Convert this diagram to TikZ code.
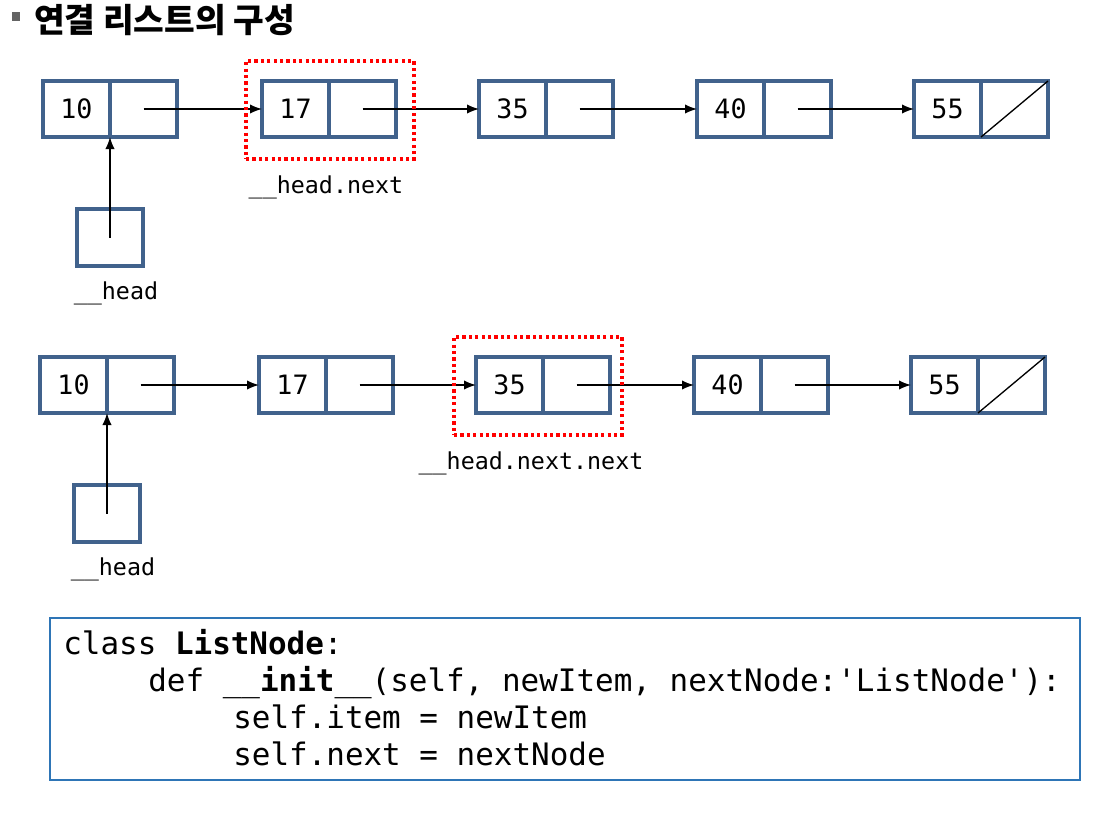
\documentclass[tikz,border=0pt]{standalone}
\usepackage{fontspec}
\usetikzlibrary{arrows.meta}
\setmonofont{DejaVu Sans Mono}
\newfontfamily\krfont{Noto Sans CJK KR}
\definecolor{cellblue}{RGB}{65,98,140}
\definecolor{codeblue}{RGB}{46,117,182}
\definecolor{bulletgray}{RGB}{100,100,100}
\tikzset{
  cell/.style={draw=cellblue, line width=3pt, minimum width=50.25pt, minimum height=42pt, inner sep=0pt, outer sep=0pt, font=\ttfamily\fontsize{20}{20}\selectfont},
  headbox/.style={draw=cellblue, line width=3pt, minimum width=49.5pt, minimum height=42.75pt, inner sep=0pt, outer sep=0pt},
  link/.style={-{Latex[length=9pt,width=7pt]}, line width=1.1pt, black},
  hilite/.style={draw=red, line width=2.6pt, dash pattern=on 2.4pt off 2.4pt, inner sep=0pt},
  varlabel/.style={font=\ttfamily\fontsize{17.5}{17.5}\selectfont, anchor=base, inner sep=0pt},
  codeline/.style={font=\ttfamily\fontsize{23.2}{23.2}\selectfont, anchor=base west, inner sep=0pt},
}
\begin{document}
\begin{tikzpicture}[x=0.75pt,y=-0.75pt]
\useasboundingbox (0,0) rectangle (1109,818);
% title
\node[fill=bulletgray, minimum width=6.5pt, minimum height=6.5pt, inner sep=0pt] (bullet) at (16,16.5) {};
\node[anchor=base west, inner sep=0pt, font=\krfont\bfseries\fontsize{25}{25}\selectfont] (title) at (34,32) {연결 리스트의 구성};

% ---------- row 1 ----------
\node[cell] (a1) at (76.5,109) {10};
\node[cell] (ap1) at (143.5,109) {};
\node[cell] (a2) at (295.5,109) {17};
\node[cell] (ap2) at (362.5,109) {};
\node[cell] (a3) at (512.5,109) {35};
\node[cell] (ap3) at (579.5,109) {};
\node[cell] (a4) at (730.5,109) {40};
\node[cell] (ap4) at (797.5,109) {};
\node[cell] (a5) at (947.5,109) {55};
\node[cell] (ap5) at (1014.5,109) {};
\draw[line width=1pt] (ap5.south west) -- (ap5.north east);
\draw[link] (ap1.center) -- (a2.west);
\draw[link] (ap2.center) -- (a3.west);
\draw[link] (ap3.center) -- (a4.west);
\draw[link] (ap4.center) -- (a5.west);
\node[headbox] (ah) at (110,237.5) {};
\draw[link] (ah.center) -- (ah.center |- a1.south);
\node[varlabel] (ahl) at (116,299) {\_\_head};
\node[hilite, minimum width=126pt, minimum height=73.5pt] (ahi) at (330,110) {};
\node[varlabel] (ahil) at (326,193) {\_\_head.next};

% ---------- row 2 ----------
\node[cell] (b1) at (73.5,385) {10};
\node[cell] (bp1) at (140.5,385) {};
\node[cell] (b2) at (292.5,385) {17};
\node[cell] (bp2) at (359.5,385) {};
\node[cell] (b3) at (509.5,385) {35};
\node[cell] (bp3) at (576.5,385) {};
\node[cell] (b4) at (727.5,385) {40};
\node[cell] (bp4) at (794.5,385) {};
\node[cell] (b5) at (944.5,385) {55};
\node[cell] (bp5) at (1011.5,385) {};
\draw[line width=1pt] (bp5.south west) -- (bp5.north east);
\draw[link] (bp1.center) -- (b2.west);
\draw[link] (bp2.center) -- (b3.west);
\draw[link] (bp3.center) -- (b4.west);
\draw[link] (bp4.center) -- (b5.west);
\node[headbox] (bh) at (107,513.5) {};
\draw[link] (bh.center) -- (bh.center |- b1.south);
\node[varlabel] (bhl) at (113,575) {\_\_head};
\node[hilite, minimum width=126pt, minimum height=73.5pt] (bhi) at (538,386) {};
\node[varlabel] (bhil) at (531,469) {\_\_head.next.next};

% ---------- code ----------
\node[draw=codeblue, line width=0.9pt, minimum width=772.5pt, minimum height=121.5pt, inner sep=0pt] (code) at (565,699) {};
\node[codeline] (c1) at (63,654) {class \textbf{ListNode}:};
\node[codeline] (c2) at (148,691) {def \_\_\textbf{init}\_\_(self, newItem, nextNode:'ListNode'):};
\node[codeline] (c3) at (233,728) {self.item = newItem};
\node[codeline] (c4) at (233,765) {self.next = nextNode};
\end{tikzpicture}
\end{document}
